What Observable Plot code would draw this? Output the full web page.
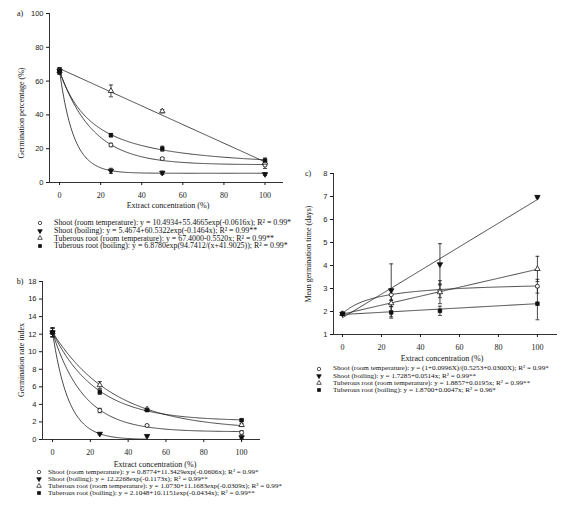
<!DOCTYPE html>
<html>
<head>
<meta charset="utf-8">
<script src="https://cdn.jsdelivr.net/npm/d3@7"></script>
<script src="https://cdn.jsdelivr.net/npm/@observablehq/plot@0.6"></script>
<style>
  body { margin: 0; background: #fff; }
  #fig { position: relative; width: 572px; height: 523px; overflow: hidden; background: #fff; }
  .abs { position: absolute; white-space: nowrap; color: #111; }
  .lab { font-family: "Liberation Serif", serif; font-size: 8px; }
  .leg { font-family: "Liberation Serif", serif; }
</style>
</head>
<body>
<div id="fig"></div>
<script>
// extract concentrations (%)
const conc = [0, 25, 50, 100];
const seriesNames = ["Shoot (room temperature)", "Shoot (boiling)", "Tuberous root (room temperature)", "Tuberous root (boiling)"];

// a) germination percentage (%)
const gpShootRoom = [66, 22.2, 14.1, 10.3];
const gpShootBoil = [66, 6.9, 5.7, 4.9];
const gpTuberRoom = [66, 54.2, 42.2, 11.8];
const gpTuberBoil = [66, 28, 20, 13];
const gpErrShootRoom = [1.5, 1, 0.7, 2];
const gpErrShootBoil = [1.5, 1.5, 1, 0.8];
const gpErrTuberRoom = [2, 3.5, 1, 1.5];
const gpErrTuberBoil = [2, 1, 1.5, 1.5];
// fitted equations
const gpFitShootRoom = [10.4934, 55.4665, -0.0616];
const gpFitShootBoil = [5.4674, 60.5322, -0.1464];
const gpFitTuberRoom = [67.4000, -0.5520];
const gpFitTuberBoil = [6.8780, 94.7412, 41.9025];
const gpEq = [
  "y = 10.4934+55.4665exp(-0.0616x); R² = 0.99*",
  "y = 5.4674+60.5322exp(-0.1464x); R² = 0.99**",
  "y = 67.4000-0.5520x; R² = 0.99**",
  "y = 6.8780exp(94.7412/(x+41.9025)); R² = 0.99*"
];

// b) germination rate index
const griShootRoom = [12.2, 3.3, 1.6, 0.8];
const griShootBoil = [12.2, 0.65, 0.4, 0.25];
const griTuberRoom = [12.2, 6.2, 3.45, 1.65];
const griTuberBoil = [12.2, 5.4, 3.35, 2.2];
const griErrShootRoom = [0.5, 0.25, 0.1, 0.2];
const griErrShootBoil = [0.5, 0.1, 0.1, 0.15];
const griErrTuberRoom = [0.5, 0.4, 0.1, 0.15];
const griErrTuberBoil = [0.5, 0.25, 0.1, 0.1];
const griFitShootRoom = [0.8774, 11.3429, -0.0606];
const griFitShootBoil = [0, 12.2268, -0.1173];
const griFitTuberRoom = [1.0730, 11.1683, -0.0309];
const griFitTuberBoil = [2.1048, 10.1151, -0.0434];
const griEq = [
  "y = 0.8774+11.3429exp(-0.0606x); R² = 0.99*",
  "y = 12.2268exp(-0.1173x); R² = 0.99**",
  "y = 1.0730+11.1683exp(-0.0309x); R² = 0.99*",
  "y = 2.1048+10.1151exp(-0.0434x); R² = 0.99**"
];

// c) mean germination time (days)
const mgtShootRoom = [1.9, 2.73, 2.9, 3.1];
const mgtShootBoil = [1.9, 2.92, 4.05, 6.98];
const mgtTuberRoom = [1.9, 2.36, 2.84, 3.85];
const mgtTuberBoil = [1.9, 1.96, 2.03, 2.34];
const mgtErrShootRoom = [0.05, 0.25, 0.3, 0.3];
const mgtErrShootBoil = [0.05, 1.15, 0.9, 0.05];
const mgtErrTuberRoom = [0.05, 0.15, 0.5, 0.55];
const mgtErrTuberBoil = [0.05, 0.25, 0.2, 0.7];
const mgtFitShootRoom = [1, 0.0996, 0.5253, 0.0300];
const mgtFitShootBoil = [1.7285, 0.0514];
const mgtFitTuberRoom = [1.8857, 0.0195];
const mgtFitTuberBoil = [1.8700, 0.0047];
const mgtEq = [
  "y = (1+0.0996X)/(0.5253+0.0300X); R² = 0.99*",
  "y = 1.7285+0.0514x; R² = 0.99**",
  "y = 1.8857+0.0195x; R² = 0.99**",
  "y = 1.8700+0.0047x; R² = 0.96*"
];

// model forms
const expDecay = ([a, b, c]) => x => a + b * Math.exp(c * x);
const linear = ([a, b]) => x => a + b * x;
const expRecip = ([a, b, c]) => x => a * Math.exp(b / (x + c));
const ratio = ([a, b, c, d]) => x => (a + b * x) / (c + d * x);

// marker styles: open circle, filled down triangle, open up triangle, filled square
const triangleDown = {
  draw(ctx, size) {
    const y = Math.sqrt(size / (Math.sqrt(3) * 3));
    ctx.moveTo(0, 2 * y);
    ctx.lineTo(-Math.sqrt(3) * y, -y);
    ctx.lineTo(Math.sqrt(3) * y, -y);
    ctx.closePath();
  }
};
const symbols = ["circle", triangleDown, "triangle", "square"];
const fills = ["white", "#111", "white", "#111"];
const d3Symbols = [d3.symbolCircle, triangleDown, d3.symbolTriangle, d3.symbolSquare];

const fig = d3.select("#fig");

function drawPanel(p) {
  const rows = [];
  p.values.forEach((vals, s) => vals.forEach((v, j) => rows.push({s, x: conc[j], y: v, e: p.errors[s][j]})));
  const curve = [];
  p.fits.forEach((f, s) => d3.range(0, p.fitEnds[s] + 0.25, 0.5).forEach(x => curve.push({s, x, y: f(x)})));
  const cap = p.capHalf;
  const line = {stroke: "#1a1a1a", strokeWidth: 0.8};

  const chart = Plot.plot({
    width: p.width,
    height: p.height,
    marginLeft: p.margins[0],
    marginRight: p.margins[1],
    marginTop: p.margins[2],
    marginBottom: p.margins[3],
    x: {domain: p.xDomain},
    y: {domain: p.yDomain},
    style: {background: "transparent", color: "#1a1a1a", overflow: "visible"},
    marks: [
      Plot.ruleY([p.yDomain[0]], {stroke: "#333", strokeWidth: 1}),
      Plot.ruleX([p.xDomain[0]], {stroke: "#333", strokeWidth: 1}),
      Plot.axisX({ticks: d3.range(0, 101, 20), tickSize: 3, tickPadding: 7, label: null,
        fontFamily: "Liberation Serif", fontSize: 8}),
      Plot.axisY({ticks: p.yTicks, tickFormat: d3.format("d"), tickSize: 3, tickPadding: 3, label: null,
        fontFamily: "Liberation Sans", fontSize: 7.5}),
      Plot.line(curve, {x: "x", y: "y", z: "s", ...line}),
      Plot.ruleX(rows, {x: "x", y1: d => d.y - d.e, y2: d => d.y + d.e, ...line}),
      Plot.link(rows, {x1: d => d.x - cap, x2: d => d.x + cap, y1: d => d.y + d.e, y2: d => d.y + d.e, ...line}),
      Plot.link(rows, {x1: d => d.x - cap, x2: d => d.x + cap, y1: d => d.y - d.e, y2: d => d.y - d.e, ...line}),
      ...[0, 2, 1, 3].map(s => Plot.dot(rows.filter(d => d.s === s), {
        x: "x", y: "y", symbol: symbols[s], r: 2, fill: fills[s], stroke: "#111", strokeWidth: 0.8
      }))
    ]
  });
  fig.append("div").attr("class", "abs")
    .style("left", p.left + "px").style("top", p.top + "px")
    .node().appendChild(chart);

  // texts
  addText(p.tag, p.tagPos[0], p.tagPos[1], false);
  addText(p.yLabel, p.yLabelPos[0], p.yLabelPos[1], true);
  addText("Extract concentration (%)", p.xLabelPos[0], p.xLabelPos[1], false);

  // legend: one text block, one line per series, symbols beside each line
  const [y0, step] = p.legRows;
  p.eqs.forEach((eq, s) => {
    const cy = y0 + s * step;
    const svg = fig.append("svg").attr("class", "abs")
      .attr("width", 8).attr("height", 8)
      .style("left", (p.legSym - 4) + "px").style("top", (cy - 4) + "px");
    svg.append("path")
      .attr("transform", "translate(4,4)")
      .attr("d", d3.symbol(d3Symbols[s], 9)())
      .attr("fill", fills[s]).attr("stroke", "#111").attr("stroke-width", 0.7);
  });
  const block = fig.append("div").attr("class", "abs leg")
    .style("font-size", p.legFont + "px")
    .style("line-height", step + "px")
    .style("left", p.legText + "px").style("top", (y0 - step / 2) + "px");
  block.html(p.eqs.map((eq, s) => seriesNames[s] + ": " + eq).join("<br>"));
}

function addText(txt, cx, cy, rotate) {
  fig.append("div").attr("class", "abs lab")
    .style("left", cx + "px").style("top", cy + "px")
    .style("transform", "translate(-50%,-50%)" + (rotate ? " rotate(-90deg)" : ""))
    .text(txt);
}

// a)
drawPanel({
  left: 0, top: 0, width: 290, height: 200, margins: [49, 7, 13, 18],
  xDomain: [-4.9, 109], yDomain: [0, 100], yTicks: d3.range(0, 101, 20),
  values: [gpShootRoom, gpShootBoil, gpTuberRoom, gpTuberBoil],
  errors: [gpErrShootRoom, gpErrShootBoil, gpErrTuberRoom, gpErrTuberBoil],
  fits: [expDecay(gpFitShootRoom), expDecay(gpFitShootBoil), linear(gpFitTuberRoom), expRecip(gpFitTuberBoil)],
  fitEnds: [100, 100, 100, 100], capHalf: 1,
  tag: "a)", tagPos: [20, 13],
  yLabel: "Germination percentage (%)", yLabelPos: [21, 113],
  xLabelPos: [168, 205],
  eqs: gpEq, legSym: 40, legText: 54, legRows: [223, 7.67], legFont: 7.9
});

// b)
drawPanel({
  left: 0, top: 270, width: 290, height: 190, margins: [42, 30, 11, 21],
  xDomain: [-5.3, 110], yDomain: [0, 18], yTicks: d3.range(0, 19, 2),
  values: [griShootRoom, griShootBoil, griTuberRoom, griTuberBoil],
  errors: [griErrShootRoom, griErrShootBoil, griErrTuberRoom, griErrTuberBoil],
  fits: [expDecay(griFitShootRoom), expDecay(griFitShootBoil), expDecay(griFitTuberRoom), expDecay(griFitTuberBoil)],
  fitEnds: [100, 50, 100, 100], capHalf: 1.1,
  tag: "b)", tagPos: [20, 281],
  yLabel: "Germination rate index", yLabelPos: [21, 360],
  xLabelPos: [155, 464],
  eqs: griEq, legSym: 39, legText: 48, legRows: [472, 7], legFont: 7.15
});

// c)
drawPanel({
  left: 290, top: 140, width: 282, height: 215, margins: [43, 15, 33, 21],
  xDomain: [-4.6, 110.3], yDomain: [1, 8], yTicks: d3.range(1, 9, 1),
  values: [mgtShootRoom, mgtShootBoil, mgtTuberRoom, mgtTuberBoil],
  errors: [mgtErrShootRoom, mgtErrShootBoil, mgtErrTuberRoom, mgtErrTuberBoil],
  fits: [ratio(mgtFitShootRoom), linear(mgtFitShootBoil), linear(mgtFitTuberRoom), linear(mgtFitTuberBoil)],
  fitEnds: [100, 100, 100, 100], capHalf: 1,
  tag: "c)", tagPos: [308, 173],
  yLabel: "Mean germination time (days)", yLabelPos: [308, 254],
  xLabelPos: [442, 358],
  eqs: mgtEq, legSym: 319, legText: 333, legRows: [369, 7.1], legFont: 7.15
});
</script>
</body>
</html>
